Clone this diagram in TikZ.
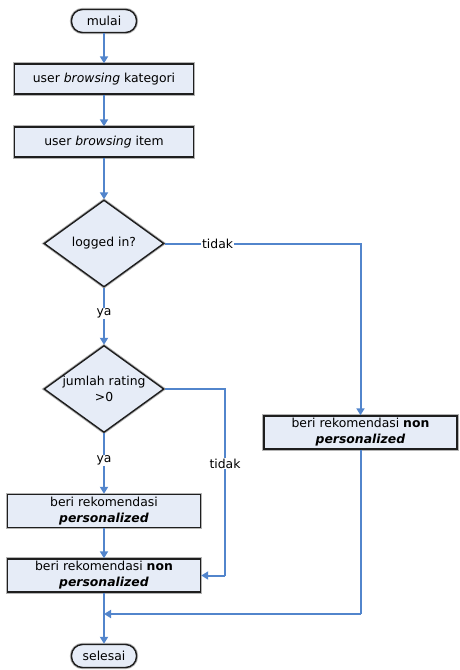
\documentclass[tikz,border=0pt]{standalone}
\usepackage{fontspec}
\setmainfont{DejaVu Sans}
\usetikzlibrary{shapes.geometric,arrows.meta}
\definecolor{boxfill}{HTML}{E6ECF7}
\definecolor{flowblue}{HTML}{5285CC}
\definecolor{edge}{HTML}{1E1E1E}
\definecolor{halo}{HTML}{B4B4B4}
\tikzset{
  base/.style={draw=edge, line width=1.4pt, fill=boxfill, inner sep=0pt,
    preaction={draw=halo, line width=3.2pt},
    font=\fontsize{12.4}{16}\selectfont, align=center},
  terminal/.style={base, rounded corners=11pt, minimum width=65pt, minimum height=23pt},
  stepbox/.style={base, rectangle, minimum width=179pt, minimum height=30pt},
  widebox/.style={base, rectangle, minimum width=193pt, minimum height=33pt},
  decision/.style={base, diamond, minimum width=120pt, minimum height=87pt, aspect=1.38},
  flow/.style={draw=flowblue, line width=2pt, -{Triangle[length=7pt,width=8pt]}},
  link/.style={draw=flowblue, line width=2pt},
  lbl/.style={fill=white, inner sep=1pt, font=\fontsize{12.4}{14}\selectfont}
}
\begin{document}
\begin{tikzpicture}[x=1pt,y=-1pt]
\useasboundingbox (0,0) rectangle (460,670);

% main column
\node[terminal] (start) at (104,21) {mulai};
\node[stepbox] (kat) at (104,79) {user \textit{browsing} kategori};
\node[stepbox] (item) at (104,142) {user \textit{browsing} item};
\node[decision] (login) at (104,243.5) {logged in?};
\node[decision] (rating) at (104,389) {jumlah rating\\>0};
\node[widebox] (pers) at (104,511) {beri rekomendasi\\\textbf{\textit{personalized}}};
\node[widebox] (npleft) at (104,575.5) {beri rekomendasi \textbf{non}\\\textbf{\textit{personalized}}};
\node[terminal] (end) at (104,656) {selesai};

% right branch
\node[widebox] (npright) at (360.5,432.5) {beri rekomendasi \textbf{non}\\\textbf{\textit{personalized}}};

% helper points
\coordinate (ltop) at (npright.north |- login.east);
\coordinate (rtop) at (225,389);
\coordinate (rbot) at (225,575.5);
\coordinate (merge) at (104,614);
\coordinate (mbot) at (npright.south |- merge);

% connectors
\draw[flow] (start) -- (kat);
\draw[flow] (kat) -- (item);
\draw[flow] (item) -- (login);
\draw[flow] (login) -- node[lbl, pos=0.45] {ya} (rating);
\draw[flow] (rating) -- node[lbl, pos=0.45] {ya} (pers);
\draw[flow] (pers) -- (npleft);
\draw[flow] (login.east) -- node[lbl, pos=0.27] {tidak} (ltop) -- (npright.north);
\draw[link] (rating.east) -- (rtop) -- node[lbl, pos=0.4] {tidak} (rbot);
\draw[flow] (rbot) -- (npleft.east);
\draw[link] (npright.south) -- (mbot);
\draw[flow] (mbot) -- (merge);
\draw[flow] (npleft) -- (end);
\end{tikzpicture}
\end{document}
